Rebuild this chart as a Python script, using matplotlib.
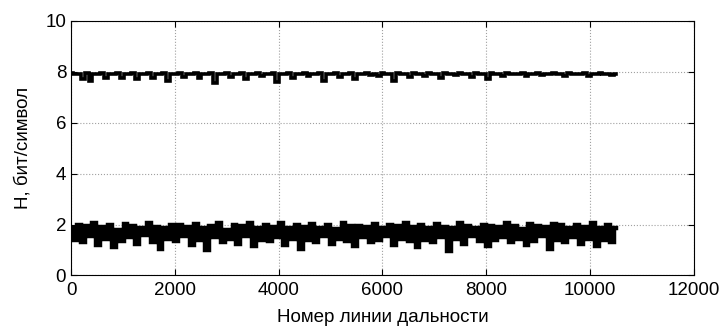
import numpy as np
import matplotlib.pyplot as plt

plt.rcParams['font.family'] = ['Liberation Sans', 'DejaVu Sans']

# range line numbers (step 75, up to 10500)
x = np.arange(0, 10501, 75)

# entropy of the upper series, bit/symbol
h_high = [7.93, 7.90, 7.92, 7.72, 7.93, 7.64, 7.92, 7.89, 7.93, 7.74,
          7.92, 7.90, 7.93, 7.76, 7.92, 7.89, 7.93, 7.70, 7.92, 7.89,
          7.93, 7.75, 7.92, 7.90, 7.93, 7.62, 7.92, 7.89, 7.93, 7.79,
          7.92, 7.89, 7.93, 7.74, 7.92, 7.90, 7.93, 7.56, 7.92, 7.89,
          7.93, 7.77, 7.92, 7.89, 7.93, 7.72, 7.92, 7.90, 7.93, 7.81,
          7.92, 7.89, 7.93, 7.60, 7.92, 7.90, 7.93, 7.75, 7.92, 7.89,
          7.93, 7.83, 7.92, 7.89, 7.93, 7.64, 7.92, 7.90, 7.93, 7.77,
          7.92, 7.89, 7.93, 7.72, 7.92, 7.90, 7.93, 7.85, 7.92, 7.81,
          7.93, 7.89, 7.92, 7.62, 7.93, 7.90, 7.92, 7.77, 7.93, 7.89,
          7.92, 7.83, 7.93, 7.89, 7.92, 7.74, 7.93, 7.90, 7.92, 7.85,
          7.93, 7.89, 7.92, 7.79, 7.93, 7.89, 7.92, 7.72, 7.93, 7.90,
          7.92, 7.81, 7.93, 7.89, 7.92, 7.90, 7.93, 7.83, 7.92, 7.89,
          7.93, 7.85, 7.92, 7.90, 7.93, 7.89, 7.92, 7.81, 7.93, 7.89,
          7.92, 7.90, 7.93, 7.83, 7.92, 7.89, 7.93, 7.90, 7.92, 7.88,
          7.90]

# entropy of the lower series, bit/symbol
h_low = [1.85, 1.40, 2.00, 1.30, 1.95, 1.55, 2.05, 1.20, 1.90, 1.45,
         1.98, 1.10, 1.80, 1.35, 2.02, 1.50, 1.95, 1.25, 1.88, 1.60,
         2.05, 1.30, 1.92, 1.05, 1.85, 1.45, 2.00, 1.35, 1.97, 1.55,
         1.90, 1.20, 2.03, 1.40, 1.86, 1.00, 1.95, 1.50, 2.05, 1.30,
         1.80, 1.45, 1.98, 1.25, 1.93, 1.55, 2.04, 1.15, 1.87, 1.40,
         2.00, 1.35, 1.90, 1.50, 2.06, 1.20, 1.85, 1.45, 1.97, 1.05,
         1.92, 1.40, 2.02, 1.30, 1.88, 1.55, 1.99, 1.25, 1.84, 1.45,
         2.05, 1.35, 1.93, 1.15, 1.96, 1.50, 1.89, 1.30, 2.03, 1.40,
         1.86, 1.55, 2.00, 1.20, 1.94, 1.45, 2.05, 1.35, 1.90, 1.10,
         1.98, 1.40, 1.85, 1.30, 2.02, 1.50, 1.92, 0.95, 1.88, 1.45,
         2.04, 1.25, 1.95, 1.55, 1.87, 1.35, 2.00, 1.15, 1.93, 1.40,
         1.90, 1.50, 2.05, 1.30, 1.96, 1.45, 1.84, 1.20, 2.01, 1.35,
         1.95, 1.55, 1.89, 1.05, 2.03, 1.40, 1.97, 1.30, 1.86, 1.50,
         2.00, 1.25, 1.92, 1.45, 2.06, 1.15, 1.88, 1.40, 1.99, 1.30,
         1.85]

fig = plt.figure(figsize=(7.26, 3.31), dpi=100)
ax = fig.add_axes([0.0978, 0.1677, 0.858, 0.770])

ax.plot(x, h_high, 'k-', lw=2.6, drawstyle='steps-mid', solid_joinstyle='miter')
ax.plot(x, h_low, 'k-', lw=3.2, drawstyle='steps-mid', solid_joinstyle='miter')

ax.set_xlim(0, 12000)
ax.set_ylim(0, 10)
ax.set_xticks(np.arange(0, 12001, 2000))
ax.set_yticks(np.arange(0, 11, 2))
ax.grid(True, linestyle=':', color='#a0a0a0', lw=0.8)
ax.tick_params(direction='in', top=True, right=True, labelsize=13.5, length=4)
ax.tick_params(axis='x', pad=5)
for s in ax.spines.values():
    s.set_linewidth(0.8)

ax.set_xlabel('Номер линии дальности', fontsize=13.5, labelpad=7)
ax.set_ylabel('H, бит/символ', fontsize=13.5, labelpad=10)

fig.savefig('out.png', dpi=100)
